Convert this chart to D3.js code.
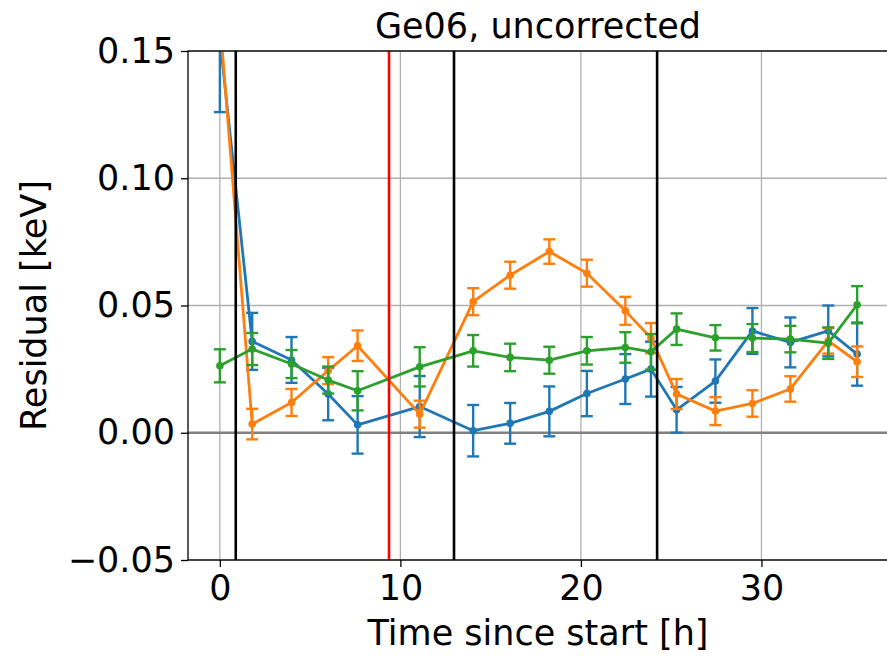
<!DOCTYPE html>
<html>
<head>
<meta charset="utf-8">
<script src="https://cdn.jsdelivr.net/npm/d3@7"></script>
<style>
  body { margin: 0; background: #fff; }
  text { font-family: "DejaVu Sans", sans-serif; fill: #000; }
</style>
</head>
<body>
<div id="chart-area"></div>
<script>
// times of each measurement [h]
let times = [0, 1.79, 3.97, 6.0, 7.63, 11.07, 14.03, 16.08, 18.25, 20.33, 22.46, 23.88, 25.3, 27.45, 29.5, 31.6, 33.7, 35.3];

let blueVals = [0.155, 0.0359, 0.0286, 0.0152, 0.0031, 0.0103, 0.0008, 0.0037, 0.0084, 0.0154, 0.0211, 0.025, 0.009, 0.0203, 0.040, 0.0355, 0.040, 0.0309];
let blueErr = [0.029, 0.0112, 0.009, 0.0103, 0.0113, 0.012, 0.0101, 0.008, 0.0098, 0.0089, 0.0098, 0.0108, 0.009, 0.0085, 0.009, 0.0098, 0.010, 0.0124];

let orangeVals = [0.162, 0.0034, 0.0119, 0.0244, 0.0342, 0.0073, 0.0515, 0.0619, 0.0712, 0.0627, 0.0479, 0.0372, 0.0152, 0.0085, 0.0115, 0.0172, 0.0361, 0.0279];
let orangeErr = [0.006, 0.006, 0.0053, 0.0053, 0.006, 0.0053, 0.0053, 0.0053, 0.0048, 0.0053, 0.0055, 0.0059, 0.0059, 0.0055, 0.0052, 0.005, 0.005, 0.006];

let greenVals = [0.0263, 0.0329, 0.027, 0.0207, 0.0165, 0.0259, 0.0322, 0.0296, 0.0285, 0.0322, 0.0335, 0.0318, 0.0407, 0.0373, 0.0372, 0.0368, 0.0352, 0.0503];
let greenErr = [0.0065, 0.0063, 0.0055, 0.0053, 0.0077, 0.0077, 0.0062, 0.0054, 0.0053, 0.0054, 0.006, 0.007, 0.0062, 0.005, 0.0055, 0.0052, 0.0062, 0.0073];

// vertical markers [h]
let blackLines = [0.88, 12.97, 24.22];
let redLines = [9.37];

let xTicks = [0, 10, 20, 30];
let yTicks = [-0.05, 0, 0.05, 0.10, 0.15];

let margin = { top: 51, right: -2, bottom: 96, left: 188 };
let W = 887, H = 656;
let width = W - margin.left - margin.right,
  height = H - margin.top - margin.bottom;

let svg = d3
  .select("#chart-area")
  .append("svg")
  .attr("width", W)
  .attr("height", H);

let bigG = svg
  .append("g")
  .attr("transform", "translate(" + margin.left + "," + margin.top + ")");

let xScale = d3.scaleLinear().domain([-1.765, 37.065]).range([0, width]);
let yScale = d3.scaleLinear().domain([-0.05, 0.15]).range([height, 0]);

svg.append("defs").append("clipPath").attr("id", "clip")
  .append("rect").attr("width", width).attr("height", height);

// grid
bigG.append("g").selectAll("line").data(xTicks).enter().append("line")
  .attr("x1", d => xScale(d)).attr("x2", d => xScale(d))
  .attr("y1", 0).attr("y2", height)
  .attr("stroke", "#b0b0b0").attr("stroke-width", 1.3);
bigG.append("g").selectAll("line").data(yTicks).enter().append("line")
  .attr("x1", 0).attr("x2", width)
  .attr("y1", d => yScale(d)).attr("y2", d => yScale(d))
  .attr("stroke", "#b0b0b0").attr("stroke-width", 1.3);

let plot = bigG.append("g").attr("clip-path", "url(#clip)");

// zero line
plot.append("line")
  .attr("x1", 0).attr("x2", width)
  .attr("y1", yScale(0)).attr("y2", yScale(0))
  .attr("stroke", "#808080").attr("stroke-width", 2.4);

let series = [
  { vals: blueVals, err: blueErr, color: "#1f77b4" },
  { vals: orangeVals, err: orangeErr, color: "#ff7f0e" },
  { vals: greenVals, err: greenErr, color: "#2ca02c" }
];

let line = d3.line().x(d => xScale(d.t)).y(d => yScale(d.v));

series.forEach(function(s) {
  let pts = times.map((t, i) => ({ t: t, v: s.vals[i], e: s.err[i] }));
  let g = plot.append("g");
  // error bars
  let eb = g.selectAll(".eb").data(pts).enter().append("g");
  eb.append("line")
    .attr("x1", d => xScale(d.t)).attr("x2", d => xScale(d.t))
    .attr("y1", d => yScale(d.v - d.e)).attr("y2", d => yScale(d.v + d.e))
    .attr("stroke", s.color).attr("stroke-width", 2.4);
  [-1, 1].forEach(function(sign) {
    eb.append("line")
      .attr("x1", d => xScale(d.t) - 6).attr("x2", d => xScale(d.t) + 6)
      .attr("y1", d => yScale(d.v + sign * d.e)).attr("y2", d => yScale(d.v + sign * d.e))
      .attr("stroke", s.color).attr("stroke-width", 2.4);
  });
  g.append("path").datum(pts)
    .attr("d", line)
    .attr("fill", "none")
    .attr("stroke", s.color)
    .attr("stroke-width", 2.8)
    .attr("stroke-linejoin", "round");
  g.selectAll("circle").data(pts).enter().append("circle")
    .attr("cx", d => xScale(d.t)).attr("cy", d => yScale(d.v))
    .attr("r", 3.8).attr("fill", s.color);
});

// vertical lines
plot.selectAll(".vb").data(blackLines).enter().append("line")
  .attr("x1", d => xScale(d)).attr("x2", d => xScale(d))
  .attr("y1", 0).attr("y2", height)
  .attr("stroke", "#000").attr("stroke-width", 2.6);
plot.selectAll(".vr").data(redLines).enter().append("line")
  .attr("x1", d => xScale(d)).attr("x2", d => xScale(d))
  .attr("y1", 0).attr("y2", height)
  .attr("stroke", "#ff0000").attr("stroke-width", 2.6);

// spines
bigG.append("rect")
  .attr("width", width).attr("height", height)
  .attr("fill", "none").attr("stroke", "#000").attr("stroke-width", 1.3);

// axes
let fmt = d3.format(".2f");
let yAxis = d3.axisLeft(yScale).tickValues(yTicks).tickFormat(fmt).tickSize(7).tickPadding(6);
let xAxis = d3.axisBottom(xScale).tickValues(xTicks).tickFormat(d3.format("d")).tickSize(7).tickPadding(8);

let yg = bigG.append("g").call(yAxis);
let xg = bigG.append("g").attr("transform", "translate(0," + height + ")").call(xAxis);
[yg, xg].forEach(function(g) {
  g.select(".domain").remove();
  g.selectAll(".tick line").attr("stroke", "#000").attr("stroke-width", 1.3);
  g.selectAll(".tick text").attr("font-family", "DejaVu Sans").attr("font-size", 35).attr("fill", "#000");
});

// title and labels
let cx = margin.left + 350;
svg.append("text")
  .attr("x", cx).attr("y", 38)
  .attr("text-anchor", "middle").attr("font-size", 35)
  .text("Ge06, uncorrected");

svg.append("text")
  .attr("x", cx).attr("y", 645)
  .attr("text-anchor", "middle").attr("font-size", 35)
  .text("Time since start [h]");

svg.append("text")
  .attr("transform", "translate(46," + (margin.top + height / 2) + ") rotate(-90)")
  .attr("text-anchor", "middle").attr("font-size", 35)
  .text("Residual [keV]");
</script>
</body>
</html>
